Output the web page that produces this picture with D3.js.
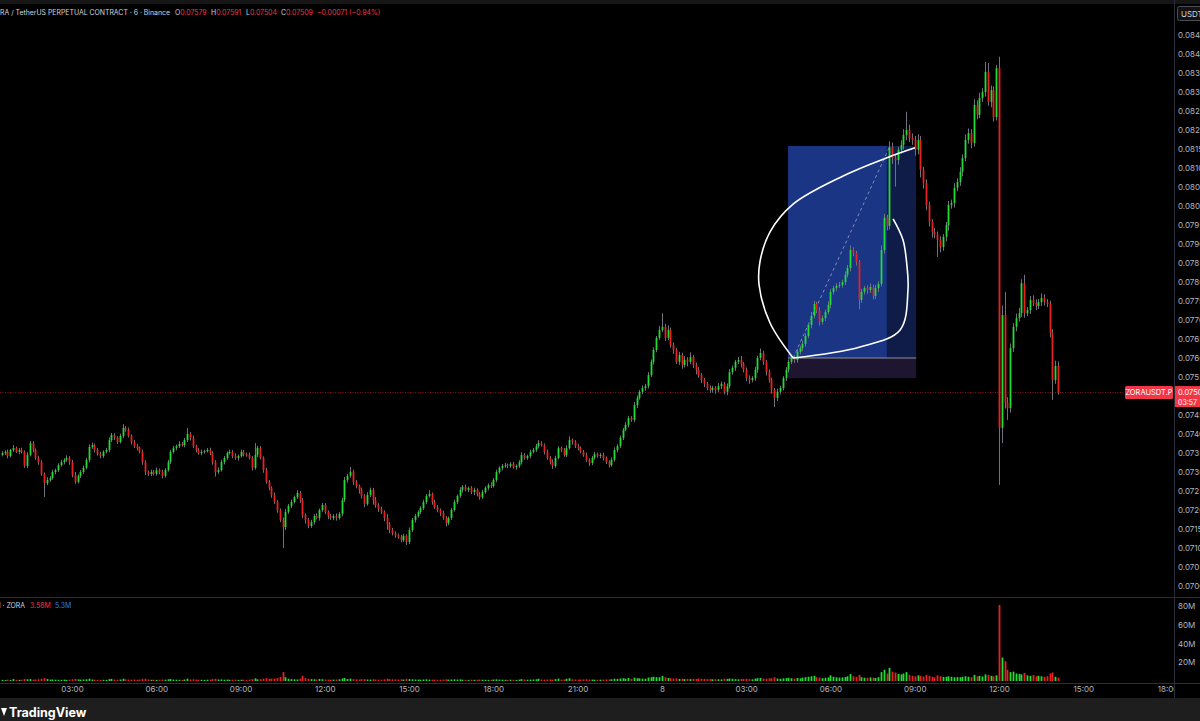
<!DOCTYPE html>
<html><head><meta charset="utf-8">
<script src="https://cdn.jsdelivr.net/npm/d3@7/dist/d3.min.js"></script>
<style>
html,body{margin:0;padding:0;background:#000;overflow:hidden}
svg{display:block}
text{font-family:"Inter","Roboto","Noto Sans",sans-serif}
</style></head><body>
<svg id="c" width="1200" height="721"></svg>
<script>
// ---------------- DATA ----------------
const TICK = 0.00001;                       // price tick size
const barStartUTC = "2025-08-07T00:30:00Z"; // first visible bar
const barMinutes = 6;
const firstOpenTick = 7345;
const closeTicks = [
7350,7353,7342,7358,7363,7353,7358,7353,7316,7345,
7376,7358,7337,7326,7295,7271,7279,7284,7300,7305,
7318,7326,7332,7337,7326,7292,7274,7290,7300,7311,
7332,7366,7371,7358,7347,7342,7353,7358,7384,7397,
7390,7379,7395,7416,7411,7395,7379,7368,7363,7353,
7326,7300,7295,7300,7295,7305,7300,7290,7305,7326,
7353,7363,7368,7374,7371,7384,7400,7390,7368,7358,
7350,7353,7355,7358,7350,7326,7300,7305,7326,7337,
7350,7353,7342,7337,7342,7353,7347,7345,7337,7311,
7345,7363,7337,7305,7274,7258,7240,7221,7200,7174,
7155,7195,7211,7221,7234,7245,7226,7187,7174,7158,
7168,7184,7179,7200,7213,7195,7184,7179,7184,7179,
7190,7226,7279,7290,7300,7274,7263,7253,7237,7216,
7240,7253,7226,7213,7203,7195,7179,7163,7147,7139,
7134,7129,7121,7132,7116,7147,7174,7184,7195,7205,
7221,7237,7242,7221,7208,7200,7192,7179,7166,7179,
7200,7221,7237,7253,7261,7253,7258,7247,7253,7242,
7234,7247,7258,7266,7263,7279,7300,7311,7316,7318,
7316,7321,7313,7316,7326,7345,7337,7342,7353,7358,
7368,7376,7371,7353,7337,7326,7316,7337,7363,7358,
7345,7363,7384,7379,7368,7363,7353,7345,7332,7324,
7337,7347,7342,7345,7337,7326,7318,7332,7358,7368,
7390,7411,7424,7442,7437,7476,7495,7511,7521,7526,
7555,7590,7621,7653,7674,7682,7653,7674,7634,7621,
7590,7608,7582,7595,7590,7603,7582,7569,7555,7542,
7532,7521,7516,7521,7516,7526,7532,7511,7526,7563,
7574,7590,7595,7584,7569,7547,7542,7547,7569,7600,
7613,7590,7563,7542,7516,7495,7511,7521,7547,7569,
7590,7600,7595,7616,7626,7637,7658,7687,7711,7742,
7726,7695,7705,7721,7740,7774,7784,7790,7792,7800,
7819,7837,7884,7876,7853,7753,7774,7784,7779,7787,
7763,7784,7795,7884,7969,7948,8155,8126,8121,8148,
8161,8187,8200,8179,8174,8148,8174,8095,8061,8003,
7958,7932,7925,7911,7892,7919,7950,8003,8008,8048,
8063,8090,8126,8174,8192,8166,8266,8240,8284,8300,
8353,8274,8305,8234,8363,7416,7713,7482,7468,7626,
7682,7705,7718,7797,7718,7726,7753,7745,7737,7747,
7758,7747,7742,7666,7542,7579,7509];
const wickUpTicks = [
5,4,6,3,8,4,5,6,4,7, 6,5,4,6,5,4,7,5,6,4, 5,6,4,7,5,6,8,4,5,6, 5,7,6,4,5,6,4,5,7,6,
5,4,6,10,5,6,4,5,6,4, 6,5,4,6,5,7,4,6,5,6, 5,6,4,7,5,6,16,5,6,4, 5,6,4,5,6,4,5,7,6,5,
4,6,5,7,4,6,5,4,6,5, 31,6,5,4,6,5,4,6,5,4, 6,8,5,6,4,7,5,6,4,5, 6,5,7,4,6,5,4,6,5,7,
5,6,8,5,13,6,5,4,6,5, 7,6,5,8,5,6,4,10,5,6, 5,4,6,5,4,7,5,6,4,5, 6,5,10,4,6,5,4,6,5,4,
5,6,4,7,5,6,4,5,6,4, 5,6,5,4,7,5,6,4,5,6, 4,5,6,4,5,7,5,4,6,5, 6,8,5,4,6,5,7,6,5,4,
5,7,10,4,5,6,4,5,6,4, 5,6,4,5,6,4,5,6,7,5, 6,5,7,6,5,8,6,5,7,6, 8,6,7,5,10,36,8,12,6,7,
5,8,6,10,7,12,5,6,7,5, 6,5,7,6,5,8,6,5,7,8, 6,5,8,10,5,6,7,5,8,6, 12,6,5,7,6,5,8,6,5,7,
6,5,7,8,6,9,7,6,10,8, 6,8,7,6,9,8,6,7,8,6, 9,8,12,7,6,5,8,6,7,9, 6,8,7,12,10,8,15,12,10,8,
12,15,48,14,12,10,15,10,8,9, 8,7,10,8,9,7,8,10,9,12, 10,12,10,14,12,10,15,12,14,10,
26,23,12,10,8,30,25,61,15,12, 10,12,14,10,22,8,10,12,9,8, 12,10,8,9,10,14,12];
const wickDownTicks = [
4,5,6,4,5,3,6,4,5,6, 4,6,5,7,5,37,6,5,4,6, 5,4,6,5,7,6,5,4,6,5, 4,6,5,7,4,6,5,4,6,5,
6,5,4,6,5,4,7,5,6,4, 7,8,5,6,4,5,6,7,5,4, 5,4,6,5,4,6,5,7,5,6, 4,6,5,4,6,7,12,5,4,6,
5,4,6,5,7,4,6,5,4,7, 5,6,4,7,5,6,8,5,7,6, 55,8,5,6,4,5,7,8,10,6, 5,6,4,7,5,6,8,5,6,7,
4,6,5,7,5,8,6,10,7,9, 5,6,12,7,8,6,9,15,8,6, 7,5,6,5,8,6,5,7,4,6, 5,6,4,7,5,6,8,5,9,6,
5,4,6,5,7,4,6,5,8,6, 7,5,4,6,5,4,6,5,7,5, 6,5,4,7,5,6,4,5,6,4, 5,6,4,7,5,6,8,5,4,6,
5,6,4,7,5,6,4,5,6,8, 6,5,4,6,7,5,6,4,5,6, 5,6,4,7,5,6,8,5,6,7, 6,5,7,6,5,6,8,6,7,10,
6,8,10,7,12,6,8,12,7,8, 9,6,8,7,10,6,8,7,9,6, 7,8,6,9,7,8,10,6,7,8, 6,8,9,7,10,24,8,7,6,8,
7,6,8,7,6,8,7,6,9,7, 8,10,7,8,6,9,7,8,6,7, 8,7,9,8,10,25,8,7,10,8, 9,8,10,7,9,12,10,15,70,12,
10,12,14,11,13,15,12,20,15,14, 12,15,10,45,14,10,12,15,10,12, 9,10,12,8,10,14,10,12,9,10,
12,10,14,12,9,150,40,15,31,12, 10,12,9,10,12,8,10,9,11,8, 10,9,8,12,52,10,5];
const volumeM = [
1.2,1.0,1.5,1.1,2.0,1.3,1.2,1.4,2.2,1.8, 2.0,1.4,1.6,1.8,2.4,3.0,2.1,1.5,1.6,1.4,
1.3,1.2,1.5,1.1,1.4,1.9,2.2,1.7,1.5,1.6, 1.8,2.5,1.6,1.4,1.3,1.2,1.3,1.2,2.0,2.2,
1.5,1.4,1.6,2.4,1.8,1.5,1.4,1.6,1.3,1.5, 2.0,2.4,1.6,1.3,1.4,1.2,1.3,1.5,1.4,1.8,
2.1,1.5,1.4,1.3,1.2,1.6,2.5,1.6,1.8,1.5, 1.4,1.3,1.2,1.4,1.5,2.0,2.4,1.6,1.7,1.4,
1.5,1.3,1.4,1.5,1.2,1.4,1.3,1.2,1.5,2.0, 2.8,1.8,1.9,2.6,3.0,2.4,2.5,2.6,3.2,4.5,
9.5,4.0,2.5,2.0,1.8,1.6,2.5,5.5,3.0,2.4, 2.0,1.8,1.6,2.2,1.9,1.6,1.5,1.4,1.5,1.6,
1.8,2.6,3.2,2.2,2.5,2.0,1.8,1.6,1.9,2.0, 1.6,1.5,1.8,1.6,1.5,1.4,1.8,2.4,2.0,1.8,
1.7,1.6,1.8,1.5,2.2,2.0,1.8,1.6,1.5,1.4, 1.6,1.8,1.5,1.4,1.5,1.3,1.4,1.6,1.8,1.5,
1.6,1.8,1.5,1.7,1.4,1.3,1.2,1.4,1.3,1.4, 1.5,1.4,1.3,1.2,1.3,1.6,1.8,1.5,1.4,1.3,
1.2,1.4,1.3,1.2,1.5,2.0,1.6,1.4,1.5,1.6, 1.8,2.4,1.6,1.5,1.6,1.7,1.5,2.0,2.6,1.5,
1.6,2.4,3.0,1.8,1.6,1.5,1.6,1.7,1.8,1.6, 1.5,1.4,1.3,1.4,1.5,1.6,1.7,1.8,2.4,2.2,
2.6,3.0,2.4,3.2,2.2,3.5,3.0,2.8,2.5,2.4, 3.6,4.0,4.5,4.2,4.0,5.5,4.0,3.2,3.0,2.6,
2.8,2.2,2.4,2.0,2.2,2.0,2.4,2.2,2.6,2.4, 2.2,2.0,2.3,1.8,1.9,1.8,1.7,2.4,2.2,2.6,
2.4,2.0,1.8,2.0,2.2,2.4,2.0,1.8,2.6,3.0, 3.2,2.6,2.4,2.8,3.0,4.0,2.6,2.4,2.8,3.0,
3.4,3.0,2.6,3.2,2.8,3.6,4.0,4.5,5.0,5.5, 4.0,3.6,3.0,3.4,3.8,6.0,4.5,4.0,3.6,3.8,
4.2,5.0,7.5,5.0,4.5,6.5,4.0,3.6,3.4,3.8, 3.5,3.2,4.0,9.5,12.0,8.0,14.0,10.0,9.0,7.5,
7.0,8.0,9.5,6.5,5.5,5.0,6.0,5.5,4.8,6.5, 5.5,4.5,4.0,6.0,5.0,4.2,4.5,5.0,4.5,4.0,
4.2,4.0,4.5,5.0,4.5,4.0,6.5,5.0,5.5,4.8, 7.0,6.5,5.5,5.0,6.0,81.0,25.0,21.0,12.0,9.5,
10.0,8.0,7.5,7.0,8.5,6.0,5.5,6.5,5.0,5.5, 5.0,4.5,5.0,8.0,9.0,4.5,3.58];

const priceTicks = [0.0700,0.0705,0.0710,0.0715,0.0720,0.0725,0.0730,0.0735,0.0740,0.0745,0.0750,0.0755,0.0760,0.0765,0.0770,0.0775,0.0780,0.0785,0.0790,0.0795,0.0800,0.0805,0.0810,0.0815,0.0820,0.0825,0.0830,0.0835,0.0840,0.0845];
const volumeTicks = [20,40,60,80];
const volumeTickLabels = ["20M","40M","60M","80M"];
const timeTickISO = ["2025-08-07T03:00:00Z","2025-08-07T06:00:00Z","2025-08-07T09:00:00Z","2025-08-07T12:00:00Z","2025-08-07T15:00:00Z","2025-08-07T18:00:00Z","2025-08-07T21:00:00Z","2025-08-08T00:00:00Z","2025-08-08T03:00:00Z","2025-08-08T06:00:00Z","2025-08-08T09:00:00Z","2025-08-08T12:00:00Z","2025-08-08T15:00:00Z","2025-08-08T18:00:00Z"];
const timeTickLabels = ["03:00","06:00","09:00","12:00","15:00","18:00","21:00","8","03:00","06:00","09:00","12:00","15:00","18:00"];

const symbolTitle = "ZORA / TetherUS PERPETUAL CONTRACT · 6 · Binance";
const ohlcLabels = ["O","H","L","C"];
const ohlcValues = ["0.07579","0.07591","0.07504","0.07509"];
const changeText = "−0.00071 (−0.94%)";
const lastPrice = 0.07509;
const lastPriceText = "0.07509";
const countdownText = "03:57";
const symbolTag = "ZORAUSDT.P";
const volLegend = ["Vol · ZORA","3.58M","5.3M"];

// long-position tool (bar index, price)
const posStartBar = 279.9, posHitBar = 315.1, posEndBar = 325.5;
const posEntry = 0.07600, posTarget = 0.08158, posStop = 0.07547;
const dashFrom = [281.7, 0.07600], dashTo = [316.0, 0.08155];
// hand-drawn loop (bar index, price)
const loopUpper = [[281.7,0.07600],[273.5,0.07692],[269.6,0.07792],[269.9,0.07853],[273.5,0.07932],[281.7,0.08005],[299.5,0.08079],[315.1,0.08127],[325.1,0.08153]];
const loopLower = [[281.7,0.07600],[305.5,0.07629],[319.8,0.07674],[322.6,0.07779],[322.2,0.07845],[320.8,0.07911],[317.3,0.07966]];

// ---------------- BUILD ----------------
const t0 = new Date(barStartUTC).getTime();
const barTime = i => new Date(t0 + i*barMinutes*60000);
const bars = closeTicks.map((c,i)=>{
  const o = i===0 ? firstOpenTick : closeTicks[i-1];
  return {t:barTime(i), o:o*TICK, c:c*TICK,
    h:(Math.max(o,c)+wickUpTicks[i])*TICK, l:(Math.min(o,c)-wickDownTicks[i])*TICK,
    v:volumeM[i]};
});

const GREEN="#22dc36", RED="#e8221f", WICK="#70737d", AXIS_TXT="#b2b5be", LINE="#2a2e39";
const HDR_FONT = "Roboto, 'Noto Sans', sans-serif";

const x = d3.scaleUtc().domain([new Date("2025-08-07T03:00:00Z"), new Date("2025-08-08T12:00:00Z")]).range([72, 999]);
const y = d3.scaleLinear().domain([0.0700, 0.0845]).range([586, 35]);
const yv = d3.scaleLinear().domain([0, 80]).range([681, 606]);
const xb = idx => x(barTime(idx));

const svg = d3.select("#c");
svg.append("defs").append("clipPath").attr("id","plotClip").append("rect").attr("x",0).attr("y",0).attr("width",1174).attr("height",721);
svg.append("rect").attr("width",1200).attr("height",721).attr("fill","#000");
svg.append("rect").attr("width",1200).attr("height",4).attr("fill","#161616");

const plot = svg.append("g").attr("clip-path","url(#plotClip)");
// position tool
plot.append("rect").attr("x",xb(posStartBar)).attr("y",y(posTarget)).attr("width",xb(posHitBar)-xb(posStartBar)).attr("height",y(posEntry)-y(posTarget)).attr("fill","#1a3584");
plot.append("rect").attr("x",xb(posHitBar)).attr("y",y(posTarget)).attr("width",xb(posEndBar)-xb(posHitBar)).attr("height",y(posEntry)-y(posTarget)).attr("fill","#0e1c47");
plot.append("rect").attr("x",xb(posStartBar)).attr("y",y(posEntry)).attr("width",xb(posEndBar)-xb(posStartBar)).attr("height",y(posStop)-y(posEntry)).attr("fill","#1e1530");
plot.append("line").attr("x1",xb(posStartBar)).attr("x2",xb(posEndBar)).attr("y1",y(posEntry)).attr("y2",y(posEntry)).attr("stroke","#8d909a").attr("stroke-width",1);
plot.append("line").attr("x1",xb(dashFrom[0])).attr("y1",y(dashFrom[1])).attr("x2",xb(dashTo[0])).attr("y2",y(dashTo[1])).attr("stroke","#9aa3c0").attr("stroke-width",0.8).attr("stroke-dasharray","3,3");

// last price line
plot.append("line").attr("x1",0).attr("x2",1174).attr("y1",y(lastPrice)).attr("y2",y(lastPrice)).attr("stroke","#b0202a").attr("stroke-width",0.8).attr("stroke-dasharray","1,1.5");

// candles
const cg = plot.append("g");
cg.selectAll("line.w").data(bars).join("line").attr("class","w")
  .attr("x1",d=>Math.round(x(d.t))+0.5).attr("x2",d=>Math.round(x(d.t))+0.5)
  .attr("y1",d=>y(d.h)).attr("y2",d=>y(d.l)).attr("stroke",WICK).attr("stroke-width",1);
cg.selectAll("rect.b").data(bars).join("rect").attr("class","b")
  .attr("x",d=>Math.round(x(d.t))-0.4).attr("width",1.8)
  .attr("y",d=>y(Math.max(d.o,d.c)))
  .attr("height",d=>Math.max(0.8, Math.abs(y(d.o)-y(d.c))))
  .attr("fill",d=>d.c>=d.o?GREEN:RED);

// loop annotation
const line = d3.line().x(d=>xb(d[0])).y(d=>y(d[1])).curve(d3.curveCatmullRom.alpha(0.5));
plot.append("path").attr("d",line(loopUpper)).attr("fill","none").attr("stroke","#fff").attr("stroke-width",1.6);
plot.append("path").attr("d",line(loopLower)).attr("fill","none").attr("stroke","#fff").attr("stroke-width",1.6);

// volume
svg.append("line").attr("x1",0).attr("x2",1200).attr("y1",597.5).attr("y2",597.5).attr("stroke",LINE);
svg.append("g").attr("clip-path","url(#plotClip)").selectAll("rect").data(bars).join("rect")
  .attr("x",d=>Math.round(x(d.t))-0.4).attr("width",1.8)
  .attr("y",d=>yv(d.v)).attr("height",d=>yv(0)-yv(d.v))
  .attr("fill",d=>d.c>=d.o?GREEN:RED);

// axes lines
svg.append("line").attr("x1",1174.5).attr("x2",1174.5).attr("y1",0).attr("y2",698).attr("stroke",LINE);
svg.append("line").attr("x1",0).attr("x2",1200).attr("y1",683.5).attr("y2",683.5).attr("stroke",LINE);

// price axis
const pa = svg.append("g").attr("transform","translate(1174,0)")
  .call(d3.axisRight(y).tickValues(priceTicks).tickFormat(d3.format(".4f")).tickSize(0).tickPadding(4));
pa.select(".domain").remove();
pa.selectAll("text").attr("fill",AXIS_TXT).attr("font-size",8).attr("font-family","Inter, Roboto, sans-serif");

// volume axis
const va = svg.append("g").attr("transform","translate(1174,0)")
  .call(d3.axisRight(yv).tickValues(volumeTicks).tickFormat((d,i)=>volumeTickLabels[i]).tickSize(0).tickPadding(4));
va.select(".domain").remove();
va.selectAll("text").attr("fill",AXIS_TXT).attr("font-size",8).attr("font-family","Inter, Roboto, sans-serif");

// time axis (clipped at the price-scale edge)
const ta = svg.append("g").attr("clip-path","url(#plotClip)").append("g").attr("transform","translate(0,683)")
  .call(d3.axisBottom(x).tickValues(timeTickISO.map(s=>new Date(s))).tickFormat((d,i)=>timeTickLabels[i]).tickSize(0).tickPadding(3));
ta.select(".domain").remove();
ta.selectAll("text").attr("fill",AXIS_TXT).attr("font-size",8).attr("font-family","Inter, Roboto, sans-serif");

// USDT button
svg.append("rect").attr("x",1177.5).attr("y",6.5).attr("width",30).attr("height",14).attr("rx",2).attr("fill","#131313").attr("stroke","#4a4d57");
svg.append("text").attr("x",1181).attr("y",16.5).attr("fill","#d1d4dc").attr("font-size",8).text("USDT");

// last price labels
const yl = y(lastPrice);
svg.append("rect").attr("x",1175).attr("y",yl-6.5).attr("width",25).attr("height",21).attr("fill","#f23645");
svg.append("text").attr("x",1178).attr("y",yl+2.5).attr("fill","#fff").attr("font-size",7.5).text(lastPriceText);
svg.append("text").attr("x",1178).attr("y",yl+12.5).attr("fill","#fff").attr("font-size",7).text(countdownText);
svg.append("rect").attr("x",1125).attr("y",yl-6.5).attr("width",48).attr("height",13).attr("rx",1.5).attr("fill","#f23645");
svg.append("text").attr("x",1149).attr("y",yl+2.8).attr("text-anchor","middle").attr("fill","#fff").attr("font-size",7.5).text(symbolTag);

// header (title cut at the left edge as in the screenshot)
const HFS = 6.9;
svg.append("text").attr("x",170).attr("y",15).attr("text-anchor","end").attr("font-size",HFS).attr("font-family",HDR_FONT).attr("fill","#d1d4dc").text(symbolTitle);
const ohlcX = [175, 211, 246, 281];
ohlcLabels.forEach((l,i)=>{
  const t = svg.append("text").attr("x",ohlcX[i]).attr("y",15).attr("font-size",HFS).attr("font-family",HDR_FONT);
  t.append("tspan").attr("fill","#d1d4dc").text(l);
  t.append("tspan").attr("fill","#f23645").text(ohlcValues[i]);
});
svg.append("text").attr("x",317).attr("y",15).attr("font-size",HFS).attr("font-family",HDR_FONT).attr("fill","#f23645").text(changeText);

// volume legend
svg.append("text").attr("x",25).attr("y",608).attr("text-anchor","end").attr("font-size",HFS).attr("font-family",HDR_FONT).attr("fill","#d1d4dc").text(volLegend[0]);
svg.append("text").attr("x",30).attr("y",608).attr("font-size",HFS).attr("font-family",HDR_FONT).attr("fill","#f23645").text(volLegend[1]);
svg.append("text").attr("x",55).attr("y",608).attr("font-size",HFS).attr("font-family",HDR_FONT).attr("fill","#2f7bf5").text(volLegend[2]);

// bottom brand bar
svg.append("rect").attr("x",0).attr("y",698).attr("width",1200).attr("height",23).attr("fill","#1e1e1e");
svg.append("path").attr("d","M1,708 L7,708 L4,716 Z").attr("fill","#fff");
svg.append("text").attr("x",9).attr("y",717).attr("fill","#fff").attr("font-size",12.5).attr("font-weight",700).attr("font-family","Inter, Roboto, sans-serif").text("TradingView");
</script>
</body></html>
